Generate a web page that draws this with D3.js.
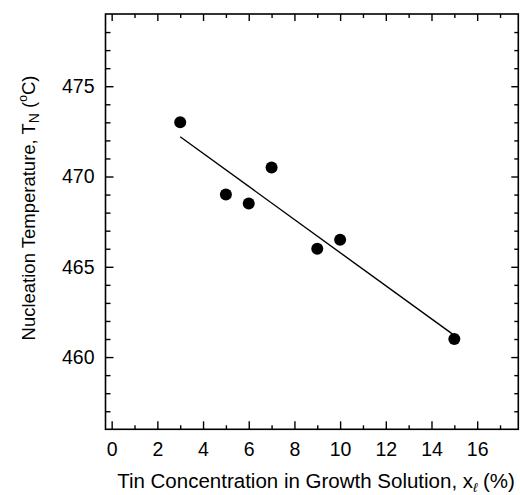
<!DOCTYPE html>
<html><head><meta charset="utf-8">
<script src="https://cdn.jsdelivr.net/npm/d3@7"></script>
<style>body{margin:0;background:#fff}svg{display:block}text{font-family:Arial,"Liberation Sans",sans-serif;fill:#000}</style>
</head><body><svg id="c" width="520" height="495"></svg>
<script>
const tinConc = [3, 5, 6, 7, 9, 10, 15];
const nucTemp = [473, 469, 468.5, 470.5, 466, 466.5, 461];
const fitX = [3, 15];
const fitY = [472.2, 461.2];
const xTicks = [0, 2, 4, 6, 8, 10, 12, 14, 16];
const xMinor = [1, 3, 5, 7, 9, 11, 13, 15, 17];
const yTicks = [460, 465, 470, 475];
const yMinor = [457, 458, 459, 461, 462, 463, 464, 466, 467, 468, 469, 471, 472, 473, 474, 476, 477, 478];

const svg = d3.select("#c");
const L = 105.5, R = 518.3, T = 14, B = 429.3;
const x = d3.scaleLinear().domain([-0.27, 17.8]).range([L, R]);
const y = d3.scaleLinear().domain([456, 479]).range([B, T]);
const fs = 19.5;

function styleAxis(g){ g.select(".domain").remove(); g.selectAll("line").attr("stroke","#000").attr("stroke-width",1.4); g.selectAll("text").attr("font-size",fs).attr("font-family","Arial, 'Liberation Sans', sans-serif"); }

// bottom
svg.append("g").attr("transform",`translate(0,${B})`).call(d3.axisBottom(x).tickValues(xTicks).tickSize(-8).tickPadding(13).tickFormat(d3.format("d"))).call(styleAxis);
svg.append("g").attr("transform",`translate(0,${B})`).call(d3.axisBottom(x).tickValues(xMinor).tickSize(-4).tickFormat("")).call(styleAxis);
// top
svg.append("g").attr("transform",`translate(0,${T})`).call(d3.axisTop(x).tickValues(xTicks).tickSize(-7).tickFormat("")).call(styleAxis);
svg.append("g").attr("transform",`translate(0,${T})`).call(d3.axisTop(x).tickValues(xMinor).tickSize(-4).tickFormat("")).call(styleAxis);
// left
svg.append("g").attr("transform",`translate(${L},0)`).call(d3.axisLeft(y).tickValues(yTicks).tickSize(-8).tickPadding(11).tickFormat(d3.format("d"))).call(styleAxis);
svg.append("g").attr("transform",`translate(${L},0)`).call(d3.axisLeft(y).tickValues(yMinor).tickSize(-5).tickFormat("")).call(styleAxis);
// right
svg.append("g").attr("transform",`translate(${R},0)`).call(d3.axisRight(y).tickValues(yTicks).tickSize(-7).tickFormat("")).call(styleAxis);
svg.append("g").attr("transform",`translate(${R},0)`).call(d3.axisRight(y).tickValues(yMinor).tickSize(-4).tickFormat("")).call(styleAxis);

// frame
svg.append("rect").attr("x",L).attr("y",T).attr("width",R-L).attr("height",B-T).attr("fill","none").attr("stroke","#000").attr("stroke-width",1.6);

// fit line
svg.append("line").attr("x1",x(fitX[0])).attr("y1",y(fitY[0])).attr("x2",x(fitX[1])).attr("y2",y(fitY[1])).attr("stroke","#000").attr("stroke-width",1.4);

// points
svg.selectAll("circle.pt").data(tinConc.map((d,i)=>[d,nucTemp[i]])).join("circle").attr("class","pt")
  .attr("cx",d=>x(d[0])).attr("cy",d=>y(d[1])).attr("r",6).attr("fill","#000");

// x title
const xt = svg.append("text").attr("x",316).attr("y",488).attr("text-anchor","middle").attr("font-size",20.5);
xt.append("tspan").text("Tin Concentration in Growth Solution, x");
xt.append("tspan").attr("font-size",13).attr("font-style","italic").attr("dy",4).text("\u2113");
xt.append("tspan").attr("dy",-4).text(" (%)");

// y title
const yt = svg.append("text").attr("transform","translate(35,208) rotate(-90)").attr("text-anchor","middle").attr("font-size",18.5);
yt.append("tspan").text("Nucleation Temperature, T");
yt.append("tspan").attr("font-size",14).attr("dy",4).text("N");
yt.append("tspan").attr("dy",-4).text(" (");
yt.append("tspan").attr("font-size",12).attr("dy",-8).text("o");
yt.append("tspan").attr("dy",8).text("C)");
</script></body></html>
